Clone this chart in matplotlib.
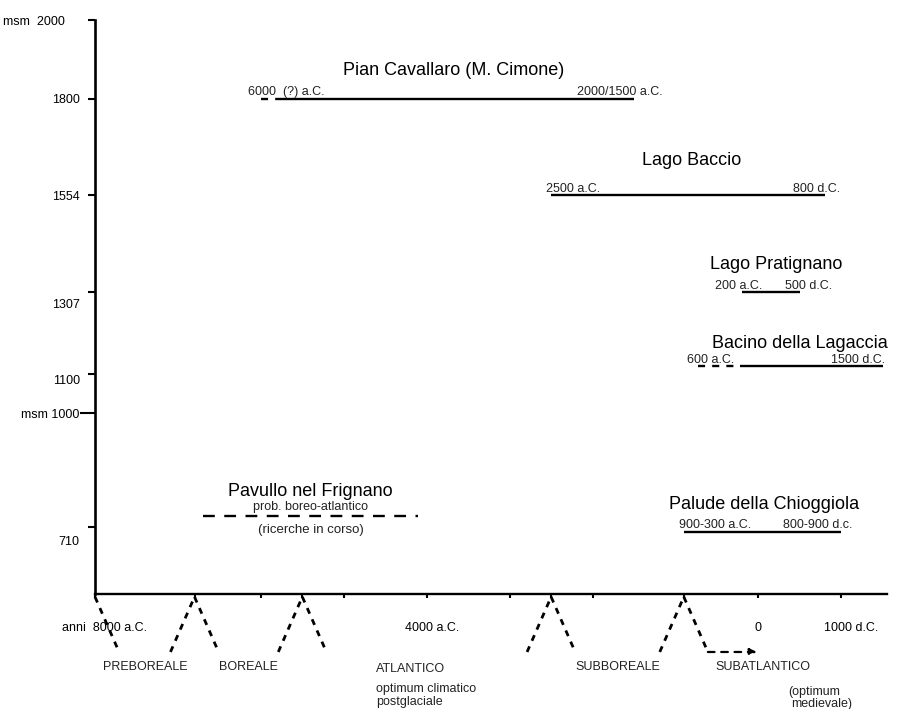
import numpy as np
import matplotlib
matplotlib.use("Agg")
import matplotlib.pyplot as plt
from matplotlib.transforms import ScaledTranslation, blended_transform_factory

plt.rcParams["font.family"] = ["Liberation Sans", "DejaVu Sans"]

# quote (msm) sull'asse verticale
elev_ticks = [2000, 1800, 1554, 1307, 1100, 1000, 710]
elev_labels = ["msm  2000", "1800", "1554", "1307", "1100", "msm 1000", "710"]

# asse del tempo (anni, negativi = a.C.)
year_ticks = [-8000, -4000, 0, 1000]
year_labels = ["anni  8000 a.C.", "4000 a.C.", "0", "1000 d.C."]
minor_year_ticks = [-6800, -6000, -5500, -5000, -3000, -2500, -2000, -900]

# limiti delle cronozone
zone_bounds = [-8000, -6800, -5500, -2500, -900]
zone_names = ["PREBOREALE", "BOREALE", "ATLANTICO", "SUBBOREALE", "SUBATLANTICO"]

# siti e intervalli datati
sites = ["Pian Cavallaro (M. Cimone)", "Lago Baccio", "Lago Pratignano",
         "Bacino della Lagaccia", "Pavullo nel Frignano", "Palude della Chioggiola"]
site_elev = [1800, 1554, 1307, 1120, 738, 698]
solid_from = [-5800, -2500, -200, -220, np.nan, -900]
solid_to = [-1500, 800, 500, 1500, np.nan, 1000]
dashed_from = [-6000, np.nan, np.nan, -730, -6700, np.nan]
dashed_to = [-5800, np.nan, np.nan, -220, -4100, np.nan]
left_text = ["6000  (?) a.C.", "2500 a.C.", "200 a.C.", "600 a.C.", "", "900-300 a.C."]
right_text = ["2000/1500 a.C.", "800 d.C.", "500 d.C.", "1500 d.C.", "", "800-900 d.c."]

# posizione delle scritte (anni)
title_x = [-3680, -810, 210, 500, -5400, 70]
title_dy = [20, 25, 20, 16, 18, 20]
left_x = [-6160, -2560, -520, -860, np.nan, -960]
right_x = [-1160, 985, 890, 1530, np.nan, 1130]

fig = plt.figure(figsize=(9.05, 7.09), dpi=100)
ax = fig.add_axes([95 / 905, 1 - 594 / 709, 792 / 905, 574 / 709])
ax.set_xlim(-8000, 1550)
ax.set_ylim(540, 2000)

for s in ["top", "right"]:
    ax.spines[s].set_visible(False)
ax.spines["left"].set_linewidth(1.9)
ax.spines["bottom"].set_linewidth(1.7)

# asse y
ax.set_yticks(elev_ticks)
ax.set_yticklabels(elev_labels, fontsize=9)
ax.tick_params(axis="y", length=5, width=1.5, pad=6)
ax.yaxis.get_major_ticks()[elev_ticks.index(1000)].tick1line.set_markersize(11)
y_shift = {2000: (-15, 0), 1307: (0, -11), 1100: (0, -6), 710: (0, -13)}
for lab, val in zip(ax.get_yticklabels(), elev_ticks):
    if val in y_shift:
        dx, dy = y_shift[val]
        lab.set_transform(lab.get_transform() + ScaledTranslation(dx / 100, dy / 100, fig.dpi_scale_trans))

# asse x
ax.set_xticks(year_ticks)
ax.set_xticklabels(year_labels, fontsize=9)
ax.set_xticks(minor_year_ticks, minor=True)
ax.tick_params(axis="x", which="both", length=3, width=1.5, pad=17)
x_shift = {-8000: 9, -4000: 5, 0: 0, 1000: 10}
for lab, val in zip(ax.get_xticklabels(), year_ticks):
    lab.set_transform(lab.get_transform() + ScaledTranslation(x_shift[val] / 100, 0, fig.dpi_scale_trans))

# siti
for i, name in enumerate(sites):
    e = site_elev[i]
    if not np.isnan(solid_from[i]):
        ax.plot([solid_from[i], solid_to[i]], [e, e], color="black", lw=1.7, solid_capstyle="butt")
    if not np.isnan(dashed_from[i]):
        ls = (0, (3, 3)) if name != "Pavullo nel Frignano" else (0, (5, 4))
        ax.plot([dashed_from[i], dashed_to[i]], [e, e], color="black", lw=1.7, linestyle=ls)
    ax.annotate(name, (title_x[i], e), xytext=(0, title_dy[i]), textcoords="offset points",
                ha="center", va="center", fontsize=13, annotation_clip=False)
    if left_text[i]:
        ax.annotate(left_text[i], (left_x[i], e), xytext=(0, 2.5), textcoords="offset points",
                    ha="left", va="baseline", fontsize=9, color="#222222")
        ax.annotate(right_text[i], (right_x[i], e), xytext=(0, 2.5), textcoords="offset points",
                    ha="right", va="baseline", fontsize=9, color="#222222", annotation_clip=False)

pav = sites.index("Pavullo nel Frignano")
ax.annotate("prob. boreo-atlantico", (title_x[pav], site_elev[pav]), xytext=(0, 6.5),
            textcoords="offset points", ha="center", va="center", fontsize=9, color="#222222")
ax.annotate("(ricerche in corso)", (title_x[pav], site_elev[pav]), xytext=(0, -10),
            textcoords="offset points", ha="center", va="center", fontsize=9.5, color="#222222")

# cronozone: segni a "V" rovesciata sotto l'asse
tr = blended_transform_factory(ax.transData, ax.transAxes)
leg = 290
for j, b in enumerate(zone_bounds):
    if j > 0:
        ax.plot([b - leg, b], [-0.101, -0.005], transform=tr, clip_on=False,
                color="black", lw=2.0, linestyle=(0, (2.2, 2.2)))
    ax.plot([b, b + leg], [-0.005, -0.101], transform=tr, clip_on=False,
            color="black", lw=2.0, linestyle=(0, (2.2, 2.2)))

ax.annotate("", xy=(-20, -0.101), xytext=(zone_bounds[-1] + leg, -0.101), xycoords=tr, textcoords=tr,
            arrowprops=dict(arrowstyle="-|>", color="black", lw=1.6, linestyle=(0, (3, 3)),
                            mutation_scale=10, shrinkA=0, shrinkB=0))

ends = zone_bounds[1:] + [1000]
for j, name in enumerate(zone_names):
    if name == "ATLANTICO":
        continue
    mid = (zone_bounds[j] + ends[j]) / 2
    ax.text(mid, -0.128, name, transform=tr, ha="center", va="center", fontsize=9, color="#222222")

atl_x = -4612
ax.text(atl_x, -0.130, "ATLANTICO", transform=tr, ha="left", va="center", fontsize=9, color="#222222")
ax.text(atl_x, -0.165, "optimum climatico", transform=tr, ha="left", va="center", fontsize=9, color="#222222")
ax.text(atl_x, -0.189, "postglaciale", transform=tr, ha="left", va="center", fontsize=9, color="#222222")
ax.text(675, -0.171, "(optimum", transform=tr, ha="center", va="center", fontsize=9, color="#222222")
ax.text(760, -0.192, "medievale)", transform=tr, ha="center", va="center", fontsize=9, color="#222222")

fig.savefig("out.png", dpi=100)
